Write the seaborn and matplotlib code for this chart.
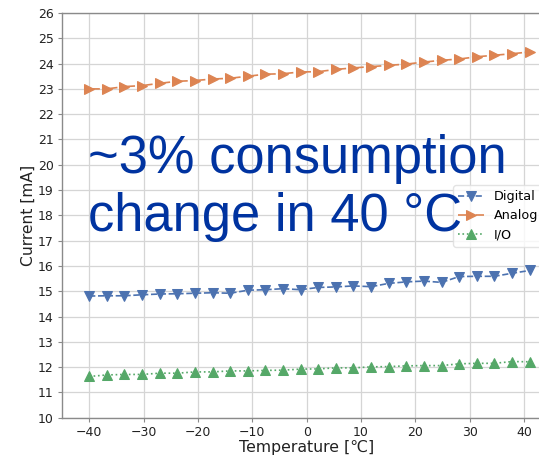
import numpy as np
import pandas as pd
import seaborn as sns
import matplotlib
matplotlib.use("Agg")
import matplotlib.pyplot as plt

temperature = np.linspace(-40, 41, 26)
digital = [14.81, 14.82, 14.82, 14.86, 14.89, 14.90, 14.92, 14.94, 14.92, 15.04,
           15.06, 15.10, 15.06, 15.15, 15.17, 15.21, 15.18, 15.31, 15.37, 15.40,
           15.35, 15.58, 15.59, 15.59, 15.71, 15.82]
analog = [23.00, 23.00, 23.09, 23.13, 23.22, 23.30, 23.33, 23.39, 23.42, 23.50,
          23.58, 23.60, 23.67, 23.68, 23.77, 23.83, 23.88, 23.93, 23.98, 24.06,
          24.13, 24.18, 24.27, 24.33, 24.39, 24.46]
io = [11.63, 11.69, 11.71, 11.71, 11.76, 11.76, 11.81, 11.81, 11.85, 11.85,
      11.87, 11.88, 11.92, 11.93, 11.97, 11.97, 12.01, 12.02, 12.05, 12.06,
      12.06, 12.13, 12.15, 12.15, 12.22, 12.21]
series_names = ["Digital", "Analog", "I/O"]
x_ticks = [-40, -30, -20, -10, 0, 10, 20, 30, 40]
y_ticks = list(range(10, 27))
annotation_lines = ["~3% consumption", "change in 40 °C"]

df = pd.DataFrame({"Temperature": temperature, "Digital": digital,
                   "Analog": analog, "I/O": io})
long = df.melt(id_vars="Temperature", var_name="Rail", value_name="Current")

plt.rcParams['font.family'] = ['DejaVu Sans']
pal = sns.color_palette("deep")
colors = {"Digital": pal[0], "Analog": pal[1], "I/O": pal[2]}
markers = {"Digital": "v", "Analog": ">", "I/O": "^"}
dashes = {"Digital": "--", "Analog": "-.", "I/O": ":"}

fig = plt.figure(figsize=(5.39, 4.58), dpi=100)
ax = fig.add_axes([0.115, 0.088, 0.908, 0.8836])

for name in series_names:
    sub = long[long["Rail"] == name]
    sns.lineplot(data=sub, x="Temperature", y="Current", ax=ax,
                 color=colors[name], marker=markers[name], linestyle=dashes[name],
                 markersize=6.5, markeredgecolor=colors[name], linewidth=1.2,
                 label=name)

ax.set_xlim(-45, 45)
ax.set_ylim(10, 26)
ax.set_xticks(x_ticks)
ax.set_yticks(y_ticks)
ax.grid(True, color="#d5d5d5", linewidth=0.9)
ax.set_axisbelow(True)
for s in ax.spines.values():
    s.set_color("#8a8a8a")
    s.set_linewidth(1.0)
ax.spines["right"].set_visible(False)
ax.tick_params(axis="both", colors="#8a8a8a", labelcolor="#222222",
               labelsize=9, length=3, pad=3)
ax.set_xlabel("Temperature [\u2103]", fontsize=11.3, color="#222222", labelpad=1)
ax.set_ylabel("Current [mA]", fontsize=11.2, color="#222222", labelpad=1.5)

leg = ax.legend(loc="upper left", bbox_to_anchor=(0.799, 0.575), fontsize=9.2,
                frameon=True, handlelength=2.0, borderpad=0.4, labelspacing=0.5,
                handletextpad=0.8, borderaxespad=0)
leg.get_frame().set_edgecolor("#dddddd")

for txt, yb in zip(annotation_lines, [0.6223, 0.4956]):
    fig.text(0.163, yb, txt, fontsize=37.8, color="#0033a0",
             family=["Liberation Sans", "DejaVu Sans"], va="baseline")

fig.savefig("out.png", dpi=100)
